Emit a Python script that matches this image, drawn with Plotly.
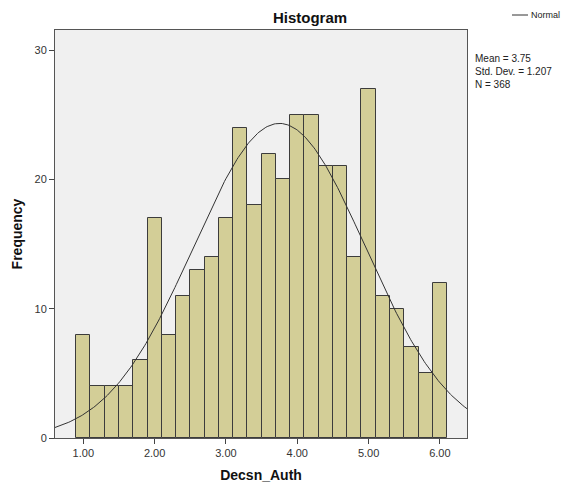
import numpy as np
import plotly.graph_objects as go

# Data
bin_starts = [0.9, 1.1, 1.3, 1.5, 1.7, 1.9, 2.1, 2.3, 2.5, 2.7, 2.9, 3.1, 3.3,
              3.5, 3.7, 3.9, 4.1, 4.3, 4.5, 4.7, 4.9, 5.1, 5.3, 5.5, 5.7, 5.9]
counts = [8, 4, 4, 4, 6, 17, 8, 11, 13, 14, 17, 24, 18,
          22, 20, 25, 25, 21, 21, 14, 27, 11, 10, 7, 5, 12]
bin_width = 0.2
mean = 3.75
std_dev = 1.207
n_obs = 368
x_tick_vals = [1, 2, 3, 4, 5, 6]
x_tick_text = ["1.00", "2.00", "3.00", "4.00", "5.00", "6.00"]
y_tick_vals = [0, 10, 20, 30]

x_range = [0.603, 6.38]
y_range = [0, 31.55]

centers = [s + bin_width / 2 for s in bin_starts]

# fitted normal curve from the reported mean / sd / N
xs = np.linspace(x_range[0], x_range[1], 300)
ys = n_obs * bin_width / (std_dev * np.sqrt(2 * np.pi)) * np.exp(-0.5 * ((xs - mean) / std_dev) ** 2)

FONT = "Liberation Sans, Arial, sans-serif"

fig = go.Figure()
fig.add_trace(go.Bar(
    x=centers, y=counts, width=bin_width,
    marker=dict(color="#D3CE97", line=dict(color="#3c3c3c", width=1)),
    showlegend=False, hoverinfo="x+y",
))
fig.add_trace(go.Scatter(
    x=xs, y=ys, mode="lines", name="Normal",
    line=dict(color="#333333", width=1), showlegend=False,
))

fig.update_layout(
    width=571, height=489,
    margin=dict(l=55, r=104, t=30, b=51),
    paper_bgcolor="white",
    plot_bgcolor="#F0F0F0",
    font=dict(family=FONT, size=11, color="#222222"),
    bargap=0,
    title=dict(text="<b>Histogram</b>", x=0.543, xanchor="center",
               y=1 - 18 / 489, yanchor="middle",
               font=dict(family=FONT, size=15, color="#111111")),
    xaxis=dict(range=x_range, tickvals=x_tick_vals, ticktext=x_tick_text,
               ticks="outside", ticklen=5, tickcolor="#444444",
               showgrid=False, zeroline=False, showline=True, mirror=True,
               linecolor="#555555", linewidth=1, automargin=False,
               tickfont=dict(size=11, color="#333333"),
               title=dict(text="<b>Decsn_Auth</b>", font=dict(size=14, color="#111111"),
                          standoff=11)),
    yaxis=dict(range=y_range, tickvals=y_tick_vals,
               ticks="outside", ticklen=5, tickcolor="#444444",
               showgrid=False, zeroline=False, showline=True, mirror=True,
               linecolor="#555555", linewidth=1, automargin=False,
               tickfont=dict(size=11, color="#333333"),
               title=dict(text="<b>Frequency</b>", font=dict(size=14, color="#111111"),
                          standoff=8)),
)

# legend: short line + "Normal"
fig.add_shape(type="line", xref="paper", yref="paper",
              x0=(512 - 55) / 412, x1=(528 - 55) / 412,
              y0=(438 - 15) / 408, y1=(438 - 15) / 408,
              line=dict(color="#333333", width=1))
fig.add_annotation(text="Normal", xref="paper", yref="paper",
                   x=(529 - 55) / 412, y=(438 - 15) / 408,
                   xanchor="left", yanchor="middle", showarrow=False,
                   font=dict(size=9, color="#222222"))

stats_text = f"Mean = {mean:.2f}<br>Std. Dev. = {std_dev:.3f}<br>N = {n_obs}"
fig.add_annotation(text=stats_text, xref="paper", yref="paper",
                   x=(473 - 55) / 412, y=(438 - 51) / 408,
                   xanchor="left", yanchor="top", align="left", showarrow=False,
                   font=dict(size=10, color="#222222"))

fig.write_html("out.html")
